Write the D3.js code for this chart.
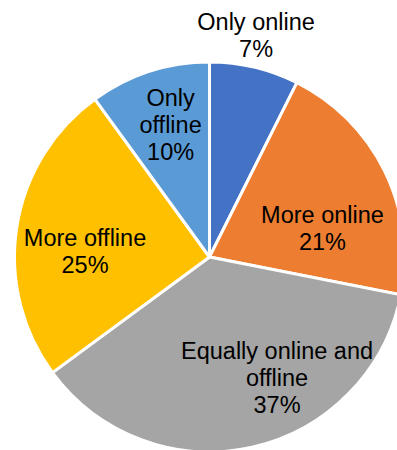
<!DOCTYPE html>
<html>
<head>
<meta charset="utf-8">
<script src="https://cdn.jsdelivr.net/npm/d3@7"></script>
<style>
  html, body { margin: 0; padding: 0; background: #ffffff; }
  svg { display: block; }
</style>
</head>
<body>
<svg id="chart" width="397" height="450"></svg>
<script>
// ---- data ----
const categories = ["Only online", "More online", "Equally online and offline", "More offline", "Only offline"];
const values = [7.4, 20.7, 36.8, 25.1, 10.0];
const labelLines = [["Only online"], ["More online"], ["Equally online and", "offline"], ["More offline"], ["Only", "offline"]];
const colors = ["#4472C4", "#ED7D31", "#A5A5A5", "#FFC000", "#5B9BD5"];

// ---- layout ----
const W = 397, H = 450;
const cx = 209.5, cy = 257, R = 195;
const fontSize = 23.5, lineH = 27;
// per-label placement (radius as fraction of R, angle nudge in degrees from slice middle)
const labelPlace = [
  { rf: 1.163, da: -1.47 },
  { rf: 0.598, da: 11.8 },
  { rf: 0.711, da: -16.55 },
  { rf: 0.639, da: -6.2 },
  { rf: 0.707, da: 1.6 }
];

const svg = d3.select("#chart");
const g = svg.append("g").attr("transform", `translate(${cx},${cy})`);

const pie = d3.pie().sort(null).value(d => d.value);
const data = categories.map((c, i) => ({ name: c, value: values[i], i }));
const arcs = pie(data);

const arc = d3.arc().innerRadius(0).outerRadius(R);

g.selectAll("path.slice")
  .data(arcs)
  .join("path")
  .attr("class", "slice")
  .attr("d", arc)
  .attr("fill", d => colors[d.data.i])
  .attr("stroke", "#ffffff")
  .attr("stroke-width", 3)
  .attr("stroke-linejoin", "round");

const total = d3.sum(values);
const labels = g.selectAll("text.lbl")
  .data(arcs)
  .join("text")
  .attr("class", "lbl")
  .attr("text-anchor", "middle")
  .attr("font-family", "Liberation Sans, Arial, sans-serif")
  .attr("font-size", fontSize)
  .attr("fill", "#000000");

labels.each(function(d) {
  const p = labelPlace[d.data.i];
  const mid = (d.startAngle + d.endAngle) / 2 + p.da * Math.PI / 180;
  const r = p.rf * R;
  const x = Math.sin(mid) * r;
  const y = -Math.cos(mid) * r;
  const lines = labelLines[d.data.i].concat([Math.round(d.data.value / total * 100) + "%"]);
  const n = lines.length;
  const firstBase = y - (n - 1) * lineH / 2 + fontSize * 0.716 / 2;
  const t = d3.select(this);
  lines.forEach((ln, k) => {
    t.append("tspan").attr("x", x).attr("y", firstBase + k * lineH).text(ln);
  });
});
</script>
</body>
</html>
